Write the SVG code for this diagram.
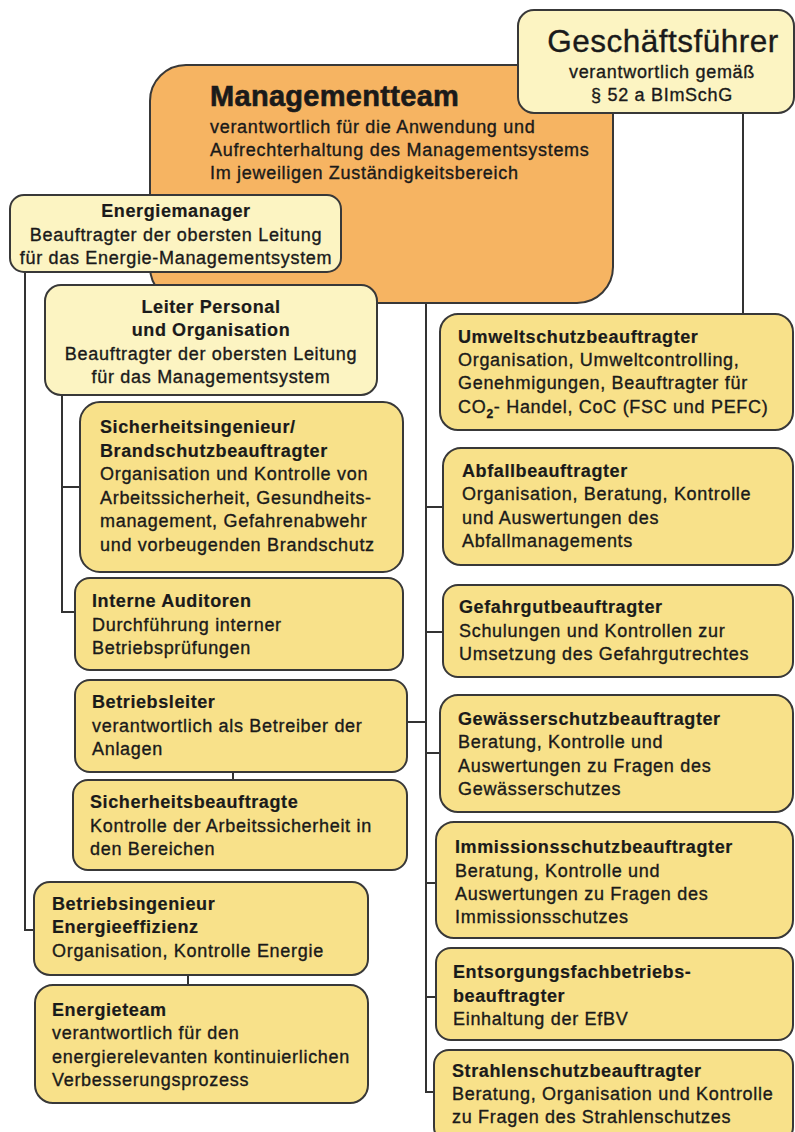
<svg xmlns="http://www.w3.org/2000/svg" width="795" height="1132" viewBox="0 0 795 1132">
<style>
.t{font-family:"Liberation Sans",Arial,Helvetica,sans-serif;font-size:18px;letter-spacing:0.7px;fill:#1a1a1a;stroke:#1a1a1a;stroke-width:0.35px}
.b{font-weight:bold;letter-spacing:0.6px;stroke-width:0.2px}
.c{text-anchor:middle}
.cream{fill:#FCF4C2;stroke:#383838;stroke-width:2}
.yel{fill:#F8E18A;stroke:#383838;stroke-width:2}
.org{fill:#F6B462;stroke:#383838;stroke-width:2}
.conn path{stroke:#333;stroke-width:2;fill:none}
</style>
<rect width="795" height="1132" fill="#ffffff"/>

<g class="conn" id="connectors">
<path d="M743 113 V314"/>
<path d="M426 303 V1092 H434"/>
<path d="M426 507 H443"/>
<path d="M426 632 H443"/>
<path d="M426 753 H440"/>
<path d="M426 883 H436"/>
<path d="M426 997 H436"/>
<path d="M407 722 H426"/>
<path d="M25 272 V930 H34"/>
<path d="M62 395 V612 H75"/>
<path d="M62 487 H80"/>
<path d="M233 772 V780"/>
<path d="M188 975 V985"/>
</g>

<g id="managementteam">
<rect class="org" x="150" y="65" width="463" height="238" rx="36"/>
<text class="t b" x="210" y="106" style="font-size:29px;letter-spacing:0.3px;stroke-width:0.6px">Managementteam</text>
<text class="t" x="210" y="133">verantwortlich für die Anwendung und</text>
<text class="t" x="210" y="156">Aufrechterhaltung des Managementsystems</text>
<text class="t" x="210" y="179">Im jeweiligen Zuständigkeitsbereich</text>
</g>

<g id="geschaeftsfuehrer">
<rect class="cream" x="518" y="10" width="276" height="103" rx="16"/>
<text class="t c" x="663" y="52" style="font-size:31.5px;letter-spacing:0.5px">Geschäftsführer</text>
<text class="t c" x="662" y="78">verantwortlich gemäß</text>
<text class="t c" x="662" y="101">§ 52 a BImSchG</text>
</g>

<g id="energiemanager">
<rect class="cream" x="10" y="195" width="331" height="77" rx="14"/>
<text class="t b c" x="176" y="217">Energiemanager</text>
<text class="t c" x="176" y="241">Beauftragter der obersten Leitung</text>
<text class="t c" x="176" y="264">für das Energie-Managementsystem</text>
</g>

<g id="leiter-personal">
<rect class="cream" x="45" y="285" width="332" height="110" rx="16"/>
<text class="t b c" x="211" y="313">Leiter Personal</text>
<text class="t b c" x="211" y="336">und Organisation</text>
<text class="t c" x="211" y="360">Beauftragter der obersten Leitung</text>
<text class="t c" x="211" y="383">für das Managementsystem</text>
</g>

<g id="sicherheitsingenieur">
<rect class="yel" x="80" y="402" width="323" height="170" rx="20"/>
<text class="t b" x="100" y="433">Sicherheitsingenieur/</text>
<text class="t b" x="100" y="457">Brandschutzbeauftragter</text>
<text class="t" x="100" y="480">Organisation und Kontrolle von</text>
<text class="t" x="100" y="504">Arbeitssicherheit, Gesundheits-</text>
<text class="t" x="100" y="527">management, Gefahrenabwehr</text>
<text class="t" x="100" y="551">und vorbeugenden Brandschutz</text>
</g>

<g id="interne-auditoren">
<rect class="yel" x="75" y="578" width="328" height="92" rx="15"/>
<text class="t b" x="92" y="607">Interne Auditoren</text>
<text class="t" x="92" y="631">Durchführung interner</text>
<text class="t" x="92" y="654">Betriebsprüfungen</text>
</g>

<g id="betriebsleiter">
<rect class="yel" x="75" y="680" width="332" height="92" rx="15"/>
<text class="t b" x="92" y="708">Betriebsleiter</text>
<text class="t" x="92" y="732">verantwortlich als Betreiber der</text>
<text class="t" x="92" y="755">Anlagen</text>
</g>

<g id="sicherheitsbeauftragte">
<rect class="yel" x="73" y="780" width="334" height="90" rx="15"/>
<text class="t b" x="90" y="808">Sicherheitsbeauftragte</text>
<text class="t" x="90" y="832">Kontrolle der Arbeitssicherheit in</text>
<text class="t" x="90" y="855">den Bereichen</text>
</g>

<g id="betriebsingenieur">
<rect class="yel" x="34" y="882" width="334" height="93" rx="16"/>
<text class="t b" x="52" y="910">Betriebsingenieur</text>
<text class="t b" x="52" y="933">Energieeffizienz</text>
<text class="t" x="52" y="957">Organisation, Kontrolle Energie</text>
</g>

<g id="energieteam">
<rect class="yel" x="35" y="985" width="333" height="118" rx="18"/>
<text class="t b" x="52" y="1016">Energieteam</text>
<text class="t" x="52" y="1039">verantwortlich für den</text>
<text class="t" x="52" y="1063">energierelevanten kontinuierlichen</text>
<text class="t" x="52" y="1086">Verbesserungsprozess</text>
</g>

<g id="umweltschutz">
<rect class="yel" x="440" y="314" width="353" height="116" rx="18"/>
<text class="t b" x="458" y="343">Umweltschutzbeauftragter</text>
<text class="t" x="458" y="366">Organisation, Umweltcontrolling,</text>
<text class="t" x="458" y="389">Genehmigungen, Beauftragter für</text>
<text class="t" x="458" y="413">CO<tspan style="font-size:12px;font-weight:bold" dy="5">2</tspan><tspan dy="-5">- Handel, CoC (FSC und PEFC)</tspan></text>
</g>

<g id="abfall">
<rect class="yel" x="443" y="448" width="350" height="117" rx="18"/>
<text class="t b" x="462" y="477">Abfallbeauftragter</text>
<text class="t" x="462" y="500">Organisation, Beratung, Kontrolle</text>
<text class="t" x="462" y="524">und Auswertungen des</text>
<text class="t" x="462" y="547">Abfallmanagements</text>
</g>

<g id="gefahrgut">
<rect class="yel" x="443" y="585" width="350" height="92" rx="15"/>
<text class="t b" x="459" y="613">Gefahrgutbeauftragter</text>
<text class="t" x="459" y="637">Schulungen und Kontrollen zur</text>
<text class="t" x="459" y="660">Umsetzung des Gefahrgutrechtes</text>
</g>

<g id="gewaesserschutz">
<rect class="yel" x="440" y="695" width="353" height="117" rx="18"/>
<text class="t b" x="458" y="725">Gewässerschutzbeauftragter</text>
<text class="t" x="458" y="748">Beratung, Kontrolle und</text>
<text class="t" x="458" y="772">Auswertungen zu Fragen des</text>
<text class="t" x="458" y="795">Gewässerschutzes</text>
</g>

<g id="immissionsschutz">
<rect class="yel" x="436" y="822" width="357" height="116" rx="18"/>
<text class="t b" x="455" y="853">Immissionsschutzbeauftragter</text>
<text class="t" x="455" y="877">Beratung, Kontrolle und</text>
<text class="t" x="455" y="900">Auswertungen zu Fragen des</text>
<text class="t" x="455" y="923">Immissionsschutzes</text>
</g>

<g id="entsorgung">
<rect class="yel" x="436" y="948" width="357" height="92" rx="15"/>
<text class="t b" x="453" y="978">Entsorgungsfachbetriebs-</text>
<text class="t b" x="453" y="1002">beauftragter</text>
<text class="t" x="453" y="1025">Einhaltung der EfBV</text>
</g>

<g id="strahlenschutz">
<rect class="yel" x="434" y="1050" width="359" height="92" rx="15"/>
<text class="t b" x="452" y="1077">Strahlenschutzbeauftragter</text>
<text class="t" x="452" y="1100">Beratung, Organisation und Kontrolle</text>
<text class="t" x="452" y="1123">zu Fragen des Strahlenschutzes</text>
</g>
</svg>
